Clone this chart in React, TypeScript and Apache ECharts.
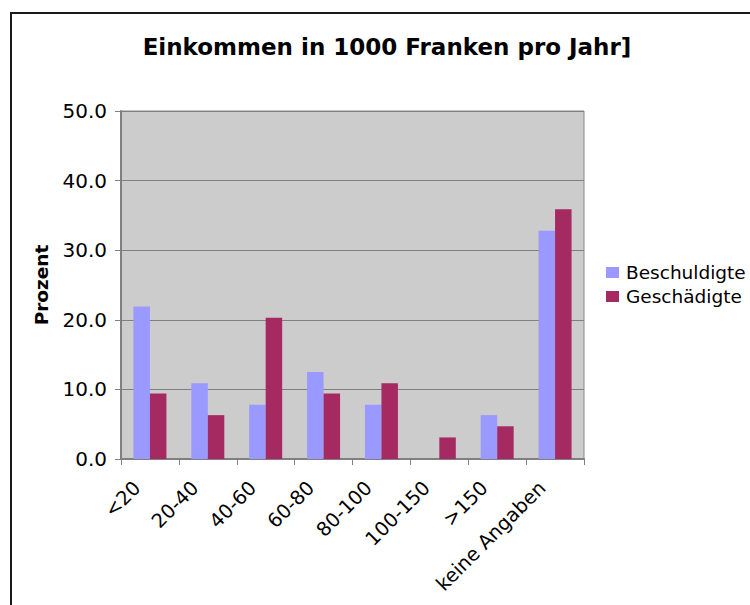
import React, { useEffect, useRef } from "react";
import * as echarts from "echarts";

const categories = ["<20", "20-40", "40-60", "60-80", "80-100", "100-150", ">150", "keine Angaben"];
const beschuldigte = [21.9, 10.9, 7.8, 12.5, 7.8, 0, 6.3, 32.8];
const geschaedigte = [9.4, 6.3, 20.3, 9.4, 10.9, 3.1, 4.7, 35.9];
const seriesNames = ["Beschuldigte", "Geschädigte"];
const titleText = "Einkommen in 1000 Franken pro Jahr]";
const yAxisName = "Prozent";

const FONT = "DejaVu Sans";

export default function App() {
  const ref = useRef<HTMLDivElement>(null);
  useEffect(() => {
    document.body.style.margin = "0";
    const chart = echarts.init(ref.current!, null, { renderer: "svg" });
    chart.setOption({
      animation: false,
      backgroundColor: "#ffffff",
      title: {
        text: titleText,
        left: 382,
        top: 30,
        textAlign: "center",
        textStyle: { fontFamily: FONT, fontWeight: "bold", fontSize: 23, color: "#000" },
      },
      legend: {
        orient: "vertical",
        left: 601,
        top: 258,
        itemWidth: 13,
        itemHeight: 11,
        itemGap: 5,
        icon: "rect",
        textStyle: { fontFamily: FONT, fontSize: 18.5, lineHeight: 18, color: "#000", padding: [0, 0, 0, 2] },
        data: seriesNames,
      },
      grid: {
        left: 121,
        top: 111,
        width: 463,
        height: 348,
        show: true,
        backgroundColor: "#cccccc",
        borderColor: "#888888",
        borderWidth: 1,
      },
      xAxis: {
        type: "category",
        data: categories,
        axisLine: { lineStyle: { color: "#808080", width: 2 } },
        axisTick: { show: true, length: 6, lineStyle: { color: "#808080" } },
        axisLabel: {
          rotate: 45,
          interval: 0,
          margin: 13,
          padding: [0, 18, 0, 0],
          fontFamily: FONT,
          fontSize: 19.5,
          color: "#000",
        },
      },
      yAxis: {
        type: "value",
        min: 0,
        max: 50,
        interval: 10,
        name: yAxisName,
        nameLocation: "middle",
        nameGap: 70,
        nameTextStyle: { fontFamily: FONT, fontWeight: "bold", fontSize: 18.5, color: "#000" },
        axisLine: { show: true, lineStyle: { color: "#808080", width: 2 } },
        axisTick: { show: true, length: 6, lineStyle: { color: "#808080" } },
        splitLine: { lineStyle: { color: "#808080", width: 1 } },
        axisLabel: {
          margin: 14,
          fontFamily: FONT,
          fontSize: 20,
          color: "#000",
          formatter: (v: number) => v.toFixed(1),
        },
      },
      series: [
        {
          name: seriesNames[0],
          type: "bar",
          data: beschuldigte,
          barGap: "0%",
          barCategoryGap: "43%",
          itemStyle: { color: "#9999ff" },
        },
        {
          name: seriesNames[1],
          type: "bar",
          data: geschaedigte,
          barGap: "0%",
          barCategoryGap: "43%",
          itemStyle: { color: "#a52a62" },
        },
      ],
      graphic: [
        {
          type: "polyline",
          shape: { points: [[11, 605], [11, 13], [750, 13]] },
          style: { stroke: "#1a1a1a", lineWidth: 2, fill: "none" },
        },
      ],
    });
    return () => chart.dispose();
  }, []);
  return <div ref={ref} style={{ position: "fixed", left: 0, top: 0, width: 750, height: 605 }} />;
}
